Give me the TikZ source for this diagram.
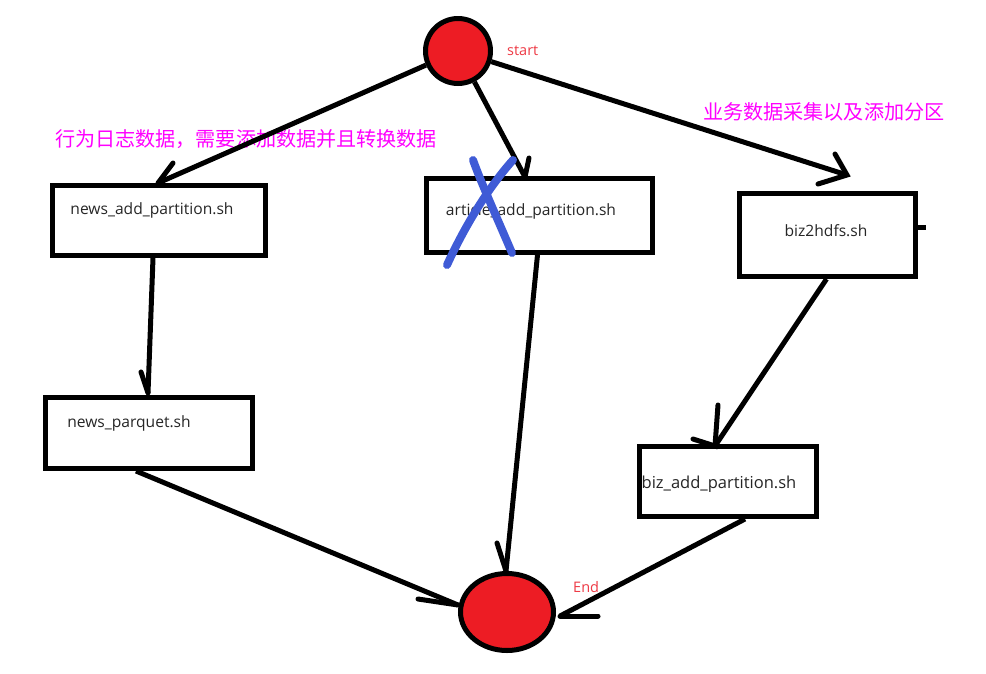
\documentclass[tikz,border=0pt]{standalone}
\usepackage{fontspec}
\setmainfont{Open Sans}
\newfontfamily\cjk{Noto Sans CJK SC}
\usetikzlibrary{shapes.geometric}
\definecolor{rd}{HTML}{ED1C24}
\definecolor{lblred}{HTML}{EE3A45}
\definecolor{mag}{HTML}{FF00FF}
\definecolor{xblue}{HTML}{3F5BD6}
\begin{document}
\begin{tikzpicture}[x=1pt,y=-1pt,
  box/.style={draw=black, line width=5pt, inner sep=0pt},
  boxtext/.style={font=\fontsize{15.6}{17}\selectfont, text=black!85, inner sep=0pt},
  conn/.style={draw=black, line width=5pt},
  barb/.style={draw=black, line width=5pt, line cap=round},
  redlbl/.style={font=\fontsize{14.5}{16}\selectfont, text=lblred, inner sep=0pt, anchor=west},
  cnlbl/.style={font=\cjk\fontsize{20.1}{23}\selectfont, text=mag, inner sep=0pt, anchor=west},
  cross/.style={draw=xblue, line width=8pt, line cap=round}]
\useasboundingbox (0,0) rectangle (986,673);
\fill[white] (0,0) rectangle (986,673);

% circles
\node[circle, draw=black, fill=rd, line width=5pt, minimum size=65pt, inner sep=0pt] (start) at (458,51) {};
\node[ellipse, draw=black, fill=rd, line width=5pt, minimum width=93pt, minimum height=77pt, inner sep=0pt] (end) at (507,612) {};
\node[redlbl] (startlbl) at (507,51) {start};
\node[redlbl] (endlbl) at (573,587) {End};

% boxes
\node[box, minimum width=213pt, minimum height=70pt] (nap) at (159,220.5) {};
\node[box, minimum width=226pt, minimum height=74pt] (aap) at (539.5,215.5) {};
\node[box, minimum width=176pt, minimum height=83pt] (biz) at (827.5,235) {};
\node[box, minimum width=207pt, minimum height=71pt] (npq) at (149,433) {};
\node[box, minimum width=177pt, minimum height=70pt] (bap) at (728,481.5) {};

\node[boxtext] (napt) at (152,210) {news\_add\_partition.sh};
\node[boxtext] (aapt) at (531,211) {article\_add\_partition.sh};
\node[boxtext] (bizt) at (826,231) {biz2hdfs.sh};
\node[boxtext] (npqt) at (129,423) {news\_parquet.sh};
\node[boxtext, font=\fontsize{16.5}{18}\selectfont] (bapt) at (719,484) {biz\_add\_partition.sh};

% chinese labels
\node[cnlbl] (cn1) at (55,139) {行为日志数据，需要添加数据并且转换数据};
\node[cnlbl] (cn2) at (703,112) {业务数据采集以及添加分区};

% tips
\coordinate (t1) at (158,183);
\coordinate (t2) at (525,177);
\coordinate (t3) at (847,175);
\coordinate (t4) at (148,393);
\coordinate (t5) at (715,446);
\coordinate (t6) at (506,571);
\coordinate (t7) at (458,605);
\coordinate (t8) at (560,616);

% connectors
\draw[conn] (start) -- (t1);
\draw[conn] (start) -- (t2);
\draw[conn] (start) -- (t3);
\draw[conn] ([xshift=-6pt]nap.south) -- (t4);
\draw[conn] ([xshift=-1pt]biz.south) -- (t5);
\draw[conn] ([xshift=-2pt]aap.south) -- (t6);
\draw[conn] ([xshift=-13pt]npq.south) -- (t7);
\draw[conn] ([xshift=17pt]bap.south) -- (t8);

% hand-drawn barbs
\draw[barb] (173,163) -- (t1);
\draw[barb] (529,158) -- (t2);
\draw[barb] (835,154) -- (t3) -- (818,184);
\draw[barb] (141,372) -- (t4);
\draw[barb] (718,405) -- (t5) -- (693,439);
\draw[barb] (497,543) -- (t6);
\draw[barb] (418,599) -- (t7);
\draw[barb] (598,616) -- (t8);

% stub on biz2hdfs
\draw[conn] (biz.east |- 0,227) -- ++(8,0);

% blue cross
\draw[cross] (473,160) .. controls (482,185) and (498,220) .. (512,253);
\draw[cross] (513,160) .. controls (495,180) and (470,215) .. (447,265);
\end{tikzpicture}
\end{document}
